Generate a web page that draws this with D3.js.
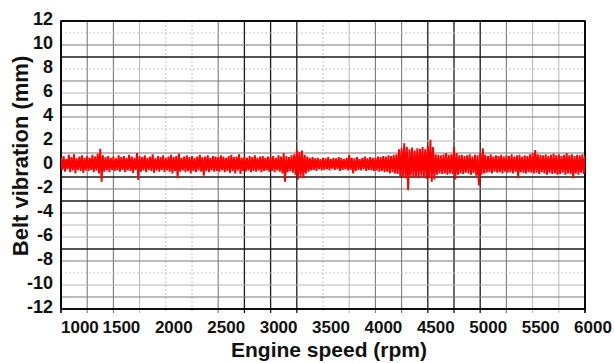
<!DOCTYPE html>
<html>
<head>
<meta charset="utf-8">
<script src="https://cdn.jsdelivr.net/npm/d3@7/dist/d3.min.js"></script>
<style>
  html, body { margin: 0; padding: 0; background: #fff; }
  svg { display: block; }
  text { font-family: "Liberation Sans", Arial, sans-serif; font-weight: bold; fill: #111; }
</style>
</head>
<body>
<svg id="chart" width="614" height="363"></svg>
<script>
// Engine speed sampling (rpm), every 25 rpm from 1000 to 6000
const rpmSteps = d3.range(1000, 6001, 25);

// Belt vibration envelope (mm): positive peak per 25 rpm step
const peakHigh = [
  0.6, 0.75, 0.5, 0.85, 0.65, 0.9, 0.55, 0.7, 0.8, 0.6,
  0.75, 0.6, 0.85, 0.7, 0.95, 1.35, 0.8, 0.65, 0.75, 0.6,
  0.7, 0.55, 0.8, 0.65, 0.75, 0.6, 0.85, 0.7, 0.6, 1.0,
  0.75, 0.65, 0.8, 0.6, 0.7, 0.9, 0.55, 0.75, 0.65, 0.8,
  0.6, 0.7, 0.85, 0.65, 0.75, 0.95, 0.6, 0.7, 0.8, 0.65,
  0.75, 0.6, 0.7, 0.85, 0.65, 0.7, 0.8, 0.6, 0.75, 0.7,
  0.65, 0.8, 0.7, 0.6, 0.75, 0.85, 0.65, 0.7, 0.9, 0.6,
  0.7, 0.6, 0.75, 0.65, 0.8, 0.6, 0.7, 0.75, 0.6, 0.7,
  0.65, 0.75, 0.6, 0.8, 0.7, 1.0, 0.75, 0.65, 0.8, 0.9,
  1.25, 1.1, 1.2, 0.85, 0.7, 0.6, 0.65, 0.55, 0.6, 0.5,
  0.6, 0.55, 0.65, 0.5, 0.6, 0.55, 0.65, 0.6, 0.5, 0.6,
  0.85, 0.6, 0.55, 0.65, 0.5, 0.6, 0.7, 0.55, 0.65, 0.6,
  0.6, 0.7, 0.65, 0.75, 0.7, 0.8, 0.75, 0.85, 0.9, 1.3,
  1.4, 1.8, 1.5, 1.3, 1.45, 1.2, 1.4, 1.35, 1.5, 1.3,
  1.6, 2.1, 1.5, 0.9, 0.85, 0.8, 0.9, 1.0, 0.85, 0.9,
  1.5, 1.0, 0.8, 0.85, 0.75, 0.8, 0.9, 0.7, 0.85, 0.8,
  1.0, 1.4, 0.85, 0.75, 0.9, 0.7, 0.8, 0.75, 0.85, 0.7,
  0.8, 0.75, 0.9, 0.7, 0.8, 0.85, 0.7, 0.8, 0.75, 0.9,
  1.0, 1.25, 0.9, 0.85, 0.8, 0.9, 0.75, 0.85, 0.95, 0.8,
  0.9, 0.75, 0.85, 1.0, 0.8, 0.9, 0.75, 0.85, 0.8, 0.9,
  0.8
];

// Belt vibration envelope (mm): negative peak per 25 rpm step
const peakLow = [
  -0.4, -0.55, -0.35, -0.6, -0.45, -0.7, -0.4, -0.5, -0.65, -0.45,
  -0.5, -0.4, -0.6, -0.45, -0.7, -1.4, -0.55, -0.45, -0.6, -0.4,
  -0.5, -0.45, -0.55, -0.4, -0.6, -0.45, -0.5, -0.65, -0.4, -1.25,
  -0.55, -0.45, -0.6, -0.4, -0.5, -0.65, -0.45, -0.55, -0.4, -0.6,
  -0.45, -0.55, -0.7, -0.5, -1.1, -0.55, -0.45, -0.6, -0.5, -0.7,
  -0.5, -0.6, -0.45, -0.55, -0.9, -0.5, -0.6, -0.45, -0.55, -0.5,
  -0.55, -0.45, -0.6, -0.5, -0.65, -0.5, -0.7, -0.45, -0.75, -0.5,
  -0.55, -0.45, -0.6, -0.5, -0.55, -0.45, -0.6, -0.5, -0.45, -0.55,
  -0.5, -0.6, -0.45, -0.55, -0.7, -1.4, -0.6, -0.5, -0.65, -0.8,
  -1.2, -0.9, -1.1, -0.7, -0.55, -0.45, -0.4, -0.5, -0.35, -0.45,
  -0.4, -0.35, -0.45, -0.3, -0.4, -0.35, -0.5, -0.4, -0.35, -0.45,
  -0.4, -0.7, -0.5, -0.4, -0.45, -0.35, -0.5, -0.4, -0.45, -0.5,
  -0.45, -0.55, -0.5, -0.6, -0.55, -0.7, -0.6, -0.7, -0.75, -0.95,
  -1.0, -1.1, -2.1, -0.9, -1.05, -0.95, -1.1, -0.9, -1.0, -1.15,
  -1.1, -1.4, -1.2, -0.8, -0.7, -0.75, -0.7, -0.8, -0.7, -0.75,
  -1.2, -0.8, -0.7, -0.75, -0.65, -0.7, -0.8, -0.65, -0.9, -1.7,
  -0.8, -0.7, -0.65, -0.6, -0.7, -0.55, -0.65, -0.6, -0.7, -0.55,
  -0.65, -0.6, -0.7, -0.55, -1.1, -0.6, -0.65, -0.7, -0.6, -0.65,
  -0.7, -0.65, -0.75, -0.6, -0.7, -0.8, -0.65, -0.75, -0.7, -0.8,
  -0.75, -0.65, -0.8, -0.7, -0.75, -1.1, -0.7, -0.8, -0.65, -0.75,
  -0.7
];

// Axis tick labels
const xTickValues = [1000, 1500, 2000, 2500, 3000, 3500, 4000, 4500, 5000, 5500, 6000];
const yTickValues = [12, 10, 8, 6, 4, 2, 0, -2, -4, -6, -8, -10, -12];

// Grid line weights (paper-style grid): one entry per line
const vGridWeight = ["border", "medium", "medium", "light", "dotted", "dotted", "medium", "dark", "dark", "dark",
  "dotted", "light", "medium", "medium", "dark", "dark", "dark", "medium", "light", "light", "border"];
const hGridWeight = { 12: "border", 11: "dotted", 10: "medium", 9: "dark", 8: "dotted", 7: "medium", 6: "light",
  5: "dark", 4: "medium", 3: "dotted", 2: "light", 1: "medium", 0: "medium", "-1": "dark", "-2": "medium",
  "-3": "dark", "-4": "medium", "-5": "light", "-6": "light", "-7": "dark", "-8": "medium", "-9": "dotted",
  "-10": "light", "-11": "medium", "-12": "border" };

const gridStyle = {
  border: { stroke: "#000", width: 1.6, dash: null },
  dark:   { stroke: "#1a1a1a", width: 1.3, dash: null },
  medium: { stroke: "#7a7a7a", width: 1.1, dash: null },
  light:  { stroke: "#b8b8b8", width: 1, dash: null },
  dotted: { stroke: "#c4c4c4", width: 1, dash: "2,2" }
};

const svg = d3.select("#chart");
const plot = { left: 61, right: 585, top: 21, bottom: 309 };

const x = d3.scaleLinear().domain([1000, 6000]).range([plot.left, plot.right]);
const y = d3.scaleLinear().domain([-12, 12]).range([plot.bottom, plot.top]);

// Grid
const gridG = svg.append("g");
const vLines = d3.range(1000, 6001, 250);
gridG.selectAll("line.v").data(vLines).join("line")
  .attr("class", "v")
  .attr("x1", d => x(d)).attr("x2", d => x(d))
  .attr("y1", plot.top).attr("y2", plot.bottom + 4)
  .each(function (d, i) {
    const s = gridStyle[vGridWeight[i]];
    d3.select(this).attr("stroke", s.stroke).attr("stroke-width", s.width)
      .attr("stroke-dasharray", s.dash);
  });

const hLines = d3.range(-12, 13, 1);
gridG.selectAll("line.h").data(hLines).join("line")
  .attr("class", "h")
  .attr("x1", plot.left).attr("x2", plot.right)
  .attr("y1", d => y(d)).attr("y2", d => y(d))
  .each(function (d) {
    const s = gridStyle[hGridWeight[d]];
    d3.select(this).attr("stroke", s.stroke).attr("stroke-width", s.width)
      .attr("stroke-dasharray", s.dash);
  });

// Plot frame
svg.append("rect")
  .attr("x", plot.left).attr("y", plot.top)
  .attr("width", plot.right - plot.left).attr("height", plot.bottom - plot.top)
  .attr("fill", "none").attr("stroke", "#000").attr("stroke-width", 1.6);

// Vibration trace: alternating positive and negative peaks
svg.append("clipPath").attr("id", "plotClip")
  .append("rect").attr("x", plot.left).attr("y", plot.top)
  .attr("width", plot.right - plot.left).attr("height", plot.bottom - plot.top);

const trace = [];
rpmSteps.forEach((r, i) => {
  trace.push([r, peakHigh[i]]);
  trace.push([r + 12.5, peakLow[i]]);
});

svg.append("path")
  .datum(trace)
  .attr("clip-path", "url(#plotClip)")
  .attr("fill", "none")
  .attr("stroke", "#ff0000")
  .attr("stroke-width", 1.9)
  .attr("stroke-linejoin", "bevel")
  .attr("d", d3.line().x(d => x(d[0])).y(d => y(d[1])));

// X tick labels
svg.append("g").selectAll("text").data(xTickValues).join("text")
  .attr("x", (d, i) => i === 0 ? x(d) : x(d) + 8)
  .attr("y", 333)
  .attr("text-anchor", (d, i) => i === 0 ? "start" : "middle")
  .attr("font-size", 17)
  .text(d => d);

// Y tick labels
svg.append("g").selectAll("text").data(yTickValues).join("text")
  .attr("x", 53)
  .attr("y", d => y(d) - 2)
  .attr("dy", "0.35em")
  .attr("text-anchor", "end")
  .attr("font-size", 18)
  .text(d => d);

// Axis titles
svg.append("text")
  .attr("x", 329).attr("y", 357)
  .attr("text-anchor", "middle")
  .attr("font-size", 21)
  .text("Engine speed (rpm)");

svg.append("text")
  .attr("transform", "translate(28,156) rotate(-90)")
  .attr("text-anchor", "middle")
  .attr("font-size", 22)
  .text("Belt vibration (mm)");
</script>
</body>
</html>
